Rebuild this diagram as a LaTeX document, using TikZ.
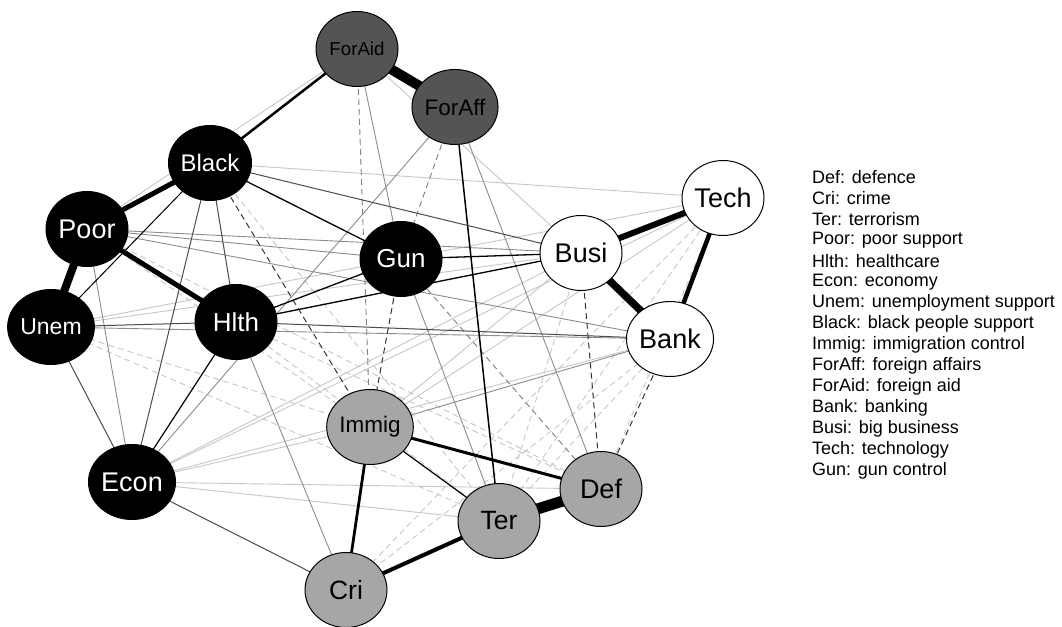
\documentclass[tikz,border=0pt]{standalone}
\usepackage{fontspec}
\setmainfont{Liberation Sans}
\usetikzlibrary{shapes.geometric}
\pgfdeclarelayer{edgelayer}
\pgfdeclarelayer{bglayer}
\pgfsetlayers{bglayer,edgelayer,main}
\newcommand{\fs}[1]{\fontsize{#1}{#1}\selectfont}
\tikzset{
  nd/.style={ellipse, draw=black, line width=1pt, minimum width=82pt, minimum height=75pt, inner sep=0pt},
  nblack/.style={nd, fill=black, text=white},
  ndark/.style={nd, fill=black!67, text=black},
  ngray/.style={nd, fill=black!35, text=black},
  nwhite/.style={nd, fill=white, text=black},
  eblk/.style={draw=black, line width=#1},
  edk/.style={draw=black!70, line width=1pt},
  egr/.style={draw=black!45, line width=0.9pt},
  elt/.style={draw=black!22, line width=0.9pt},
  ddk/.style={draw=black!80, line width=1pt, dash pattern=on 6pt off 4pt},
  dgr/.style={draw=black!50, line width=0.9pt, dash pattern=on 6pt off 4pt},
  dlt/.style={draw=black!22, line width=0.9pt, dash pattern=on 6pt off 4pt},
  legtxt/.style={anchor=west, inner sep=0pt, font=\fs{18}}
}
\begin{document}
\begin{tikzpicture}[x=1pt,y=-1pt]
\begin{pgfonlayer}{bglayer}
\fill[white] (0,0) rectangle (1062,626);
\end{pgfonlayer}
\useasboundingbox (0,0) rectangle (1062,626);
% nodes
\node[ndark]  (ForAid) at (357,49)  {\fs{18.7}ForAid};
\node[ndark]  (ForAff) at (455,107) {\fs{22.5}ForAff};
\node[nblack] (Black)  at (210,163) {\fs{24}Black};
\node[nblack] (Poor)   at (87,229)  {\fs{27}Poor};
\node[nblack] (Unem)   at (51,327)  {\fs{23}Unem};
\node[nblack] (Hlth)   at (236,322) {\fs{26}Hlth};
\node[nblack] (Gun)    at (401,259) {\fs{26}Gun};
\node[nwhite] (Busi)   at (581,253) {\fs{27}Busi};
\node[nwhite] (Tech)   at (723,198) {\fs{27}Tech};
\node[nwhite] (Bank)   at (670,339) {\fs{27}Bank};
\node[nblack] (Econ)   at (132,482) {\fs{27}Econ};
\node[ngray]  (Immig)  at (370,427) {\fs{22.5}Immig};
\node[ngray]  (Def)    at (601,489) {\fs{27}Def};
\node[ngray]  (Ter)    at (499,521) {\fs{26.5}Ter};
\node[ngray]  (Cri)    at (346,590) {\fs{26.5}Cri};
\begin{pgfonlayer}{edgelayer}
% light dashed
\foreach \a/\b in {Unem/Immig, Unem/Ter, Poor/Def, Hlth/Ter, Hlth/Def, Black/Ter, Bank/Ter, Tech/Ter, Tech/Def, Tech/Cri, Busi/Ter, Poor/Immig, Bank/Cri}
  \draw[dlt] (\a.center) -- (\b.center);
% light solid
\foreach \a/\b in {Black/Tech, Gun/Tech, Econ/Tech, Immig/Tech, Econ/Immig, Econ/Def, Econ/Ter, Unem/Gun, Unem/Busi, ForAid/Busi, Immig/Busi, Econ/Bank, ForAid/Poor, Econ/Busi}
  \draw[elt] (\a.center) -- (\b.center);
% gray solid
\foreach \a/\b in {ForAid/Gun, ForAff/Econ, ForAff/Def, Poor/Econ, Poor/Gun, Poor/Busi, Poor/Bank, Unem/Bank, Hlth/Cri, Gun/Ter, Bank/Immig}
  \draw[egr] (\a.center) -- (\b.center);
% gray dashed
\foreach \a/\b in {ForAid/Immig, ForAff/Gun, Gun/Def}
  \draw[dgr] (\a.center) -- (\b.center);
% dark dashed
\foreach \a/\b in {Black/Immig, Gun/Immig, Busi/Def, Bank/Def}
  \draw[ddk] (\a.center) -- (\b.center);
% dark gray solid
\foreach \a/\b in {Black/Busi, Black/Econ, Black/Hlth, Unem/Econ, Econ/Cri, Unem/Hlth, Hlth/Bank}
  \draw[edk] (\a.center) -- (\b.center);
% black solid
\draw[eblk=1.3pt] (Black.center) -- (Gun.center);
\draw[eblk=1.3pt] (Hlth.center) -- (Gun.center);
\draw[eblk=1.3pt] (Hlth.center) -- (Busi.center);
\draw[eblk=1.3pt] (Gun.center) -- (Busi.center);
\draw[eblk=1.5pt] (ForAff.center) -- (Ter.center);
\draw[eblk=1.2pt] (Immig.center) -- (Ter.center);
\draw[eblk=1pt] (Black.center) -- (Unem.center);
\draw[eblk=1.2pt] (Econ.center) -- (Hlth.center);
\draw[eblk=2.5pt] (Black.center) -- (ForAid.center);
\draw[eblk=2.8pt] (Immig.center) -- (Cri.center);
\draw[eblk=3pt] (Immig.center) -- (Def.center);
\draw[eblk=4pt] (Cri.center) -- (Ter.center);
\draw[eblk=4.5pt] (Tech.center) -- (Bank.center);
\draw[eblk=5pt] (Poor.center) -- (Hlth.center);
\draw[eblk=5pt] (Black.center) -- (Poor.center);
\draw[eblk=6pt] (Busi.center) -- (Tech.center);
\draw[eblk=7.5pt] (Busi.center) -- (Bank.center);
\draw[eblk=8pt] (Poor.center) -- (Unem.center);
\draw[eblk=10pt] (ForAid.center) -- (ForAff.center);
\draw[eblk=11pt] (Ter.center) -- (Def.center);
\end{pgfonlayer}
% legend
\node[legtxt] (l1)  at (812,177) {Def: defence};
\node[legtxt] (l2)  at (812,198) {Cri: crime};
\node[legtxt] (l3)  at (812,219) {Ter: terrorism};
\node[legtxt] (l4)  at (812,240) {Poor: poor support};
\node[legtxt] (l5)  at (812,261) {Hlth: healthcare};
\node[legtxt] (l6)  at (812,282) {Econ: economy};
\node[legtxt] (l7)  at (812,303) {Unem: unemployment support};
\node[legtxt] (l8)  at (812,324) {Black: black people support};
\node[legtxt] (l9)  at (812,345) {Immig: immigration control};
\node[legtxt] (l10) at (812,366) {ForAff: foreign affairs};
\node[legtxt] (l11) at (812,387) {ForAid: foreign aid};
\node[legtxt] (l12) at (812,408) {Bank: banking};
\node[legtxt] (l13) at (812,429) {Busi: big business};
\node[legtxt] (l14) at (812,450) {Tech: technology};
\node[legtxt] (l15) at (812,471) {Gun: gun control};
\end{tikzpicture}
\end{document}
